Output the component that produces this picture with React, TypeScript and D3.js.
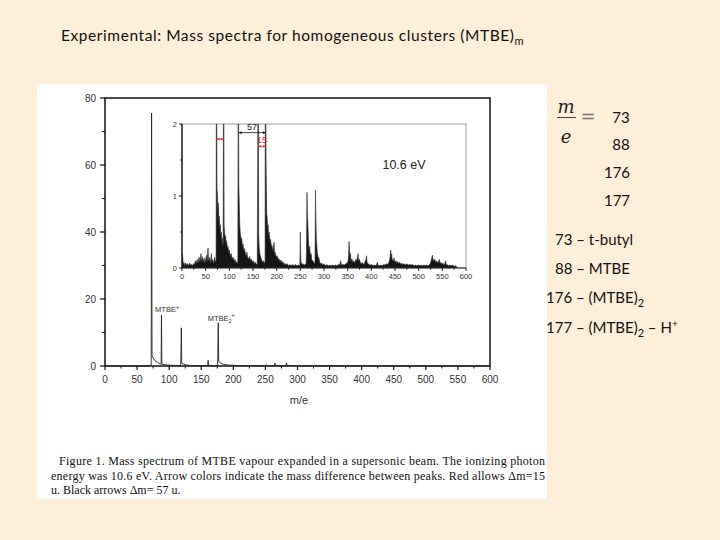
import React from 'react';
import * as d3 from 'd3';

// ---------- data ----------
const mainXTicks = [0, 50, 100, 150, 200, 250, 300, 350, 400, 450, 500, 550, 600];
const mainXMinor = [25, 75, 125, 175, 225, 275, 325, 375, 425, 475, 525, 575];
const mainYTicks = [0, 20, 40, 60, 80];
const mainYMinor = [10, 30, 50, 70];
const insetXTicks = [0, 50, 100, 150, 200, 250, 300, 350, 400, 450, 500, 550, 600];
const insetXMinor = [25, 75, 125, 175, 225, 275, 325, 375, 425, 475, 525, 575];
const insetYTicks = [0, 1, 2];
const insetYMinor = [0.5, 1.5];

// main spectrum (m/e, intensity)
const mainSpectrum: [number, number][] = [
  [0, 0], [60, 0], [70, 0.1], [72, 0.3], [72.6, 75.5], [73.3, 3], [75, 2.4], [78, 1.6], [82, 1.0],
  [86, 0.6], [87.5, 0.5], [88, 15.2], [88.6, 0.6], [92, 0.4], [100, 0.25], [110, 0.15], [118, 0.1],
  [119, 11.4], [119.6, 0.8], [122, 0.6], [126, 0.3], [135, 0.15], [150, 0.1], [160, 0.1],
  [160.7, 1.7], [161.3, 0.2], [170, 0.1], [175.5, 0.2], [176.5, 12.9], [177.2, 1.5], [180, 0.9],
  [185, 0.5], [190, 0.3], [200, 0.2], [210, 0.1], [250, 0.05], [251, 0.4], [252, 0.05],
  [264, 0.1], [264.5, 0.9], [266, 0.2], [282, 0.1], [282.5, 0.9], [284, 0.2], [300, 0.05],
  [353, 0.05], [353.5, 0.3], [355, 0.05], [600, 0],
];

// inset spectrum (m/e, intensity), zoomed 0..2
const insetSpectrum: [number, number][] = [
  [0, 0], [0.5, 0.2], [1.5, 0.15], [2.5, 0.05], [4, 0.08], [6, 0.03], [8, 0.07], [10, 0.04], [12, 0.06],
  [14, 0.03], [16, 0.07], [18, 0.04], [20, 0.05], [22, 0.03], [24, 0.06], [26, 0.04], [28, 0.1],
  [30, 0.06], [32, 0.12], [34, 0.07], [36, 0.15], [38, 0.08], [40, 0.2], [41, 0.1], [43, 0.16],
  [45, 0.08], [47, 0.14], [48, 0.07], [50, 0.12], [52, 0.18], [53, 0.08], [55, 0.28], [56, 0.1],
  [58, 0.15], [60, 0.07], [62, 0.2], [63, 0.09], [65, 0.12], [67, 0.06], [69, 0.15], [71, 0.08],
  [72, 0.1], [72.6, 2.5], [73.4, 2.5], [74, 1.1], [75, 1.02], [76, 0.8], [77, 0.9], [78, 0.65],
  [79, 0.72], [80, 0.55], [81, 0.6], [82, 0.45], [83, 0.5], [84, 0.38], [85, 0.42], [86, 0.32],
  [87, 0.35], [87.6, 2.5], [88.4, 2.5], [89, 0.6], [90, 0.5], [91, 0.42], [92, 0.45], [93, 0.35],
  [94, 0.38], [96, 0.28], [97, 0.3], [99, 0.22], [100, 0.25], [102, 0.17], [104, 0.2], [106, 0.13],
  [108, 0.15], [110, 0.1], [112, 0.12], [114, 0.07], [116, 0.09], [118, 0.06], [118.6, 2.5],
  [119.4, 2.5], [120, 1.15], [121, 0.9], [122, 0.6], [123, 0.5], [124, 0.45], [125, 0.38],
  [126, 0.42], [128, 0.3], [129, 0.33], [131, 0.24], [132, 0.27], [134, 0.2], [136, 0.16],
  [137, 0.22], [139, 0.14], [141, 0.13], [143, 0.16], [145, 0.1], [147, 0.12], [149, 0.08],
  [151, 0.1], [153, 0.06], [155, 0.08], [157, 0.05], [159, 0.06], [160.6, 2.5], [161.3, 2.5],
  [162, 0.45], [163, 0.3], [164, 0.22], [166, 0.15], [168, 0.12], [170, 0.08], [172, 0.1],
  [174, 0.06], [175.5, 0.1], [176, 2.5], [177, 2.5], [177.6, 1.5], [178, 1.3], [179, 0.75],
  [180, 0.7], [181, 0.55], [182, 0.6], [183, 0.45], [184, 0.5], [186, 0.38], [187, 0.4], [189, 0.3],
  [190, 0.32], [192, 0.24], [193, 0.28], [194.5, 0.36], [195.5, 0.2], [197, 0.22], [199, 0.15],
  [201, 0.17], [203, 0.12], [205, 0.13], [207, 0.09], [209, 0.11], [211, 0.07], [213, 0.09],
  [215, 0.05], [217, 0.07], [219, 0.04], [222, 0.06], [225, 0.03], [228, 0.05], [231, 0.03],
  [234, 0.05], [237, 0.03], [240, 0.05], [243, 0.03], [246, 0.04], [249, 0.03], [250, 0.5],
  [251, 0.1], [252, 0.07], [254, 0.05], [256, 0.06], [258, 0.04], [260, 0.05], [262, 0.06],
  [263, 0.2], [264, 1.05], [265, 0.75], [266, 0.6], [267, 0.4], [268, 0.3], [269, 0.25], [270, 0.3],
  [271, 0.18], [273, 0.2], [274, 0.12], [276, 0.1], [278, 0.08], [280, 0.06], [281, 0.1],
  [282, 1.08], [283, 0.65], [284, 0.4], [285, 0.3], [286, 0.2], [287, 0.18], [288, 0.12],
  [289, 0.15], [291, 0.08], [293, 0.06], [295, 0.07], [297, 0.04], [300, 0.06], [303, 0.03],
  [306, 0.05], [309, 0.03], [312, 0.04], [315, 0.03], [318, 0.04], [321, 0.03], [324, 0.04],
  [327, 0.03], [330, 0.05], [333, 0.04], [335, 0.1], [337, 0.04], [340, 0.05], [343, 0.04],
  [346, 0.06], [349, 0.07], [351, 0.1], [352, 0.2], [353, 0.37], [354, 0.25], [355, 0.15],
  [356, 0.2], [357, 0.1], [359, 0.13], [361, 0.08], [363, 0.1], [365, 0.07], [367, 0.12],
  [369, 0.1], [371, 0.16], [372, 0.2], [373, 0.1], [375, 0.12], [377, 0.07], [379, 0.06],
  [381, 0.08], [383, 0.05], [385, 0.06], [387, 0.09], [389, 0.12], [390, 0.17], [391, 0.08],
  [393, 0.06], [395, 0.05], [398, 0.04], [401, 0.05], [404, 0.03], [407, 0.04], [410, 0.03],
  [413, 0.08], [414, 0.04], [417, 0.03], [420, 0.04], [423, 0.03], [426, 0.05], [429, 0.04],
  [432, 0.06], [435, 0.05], [437, 0.08], [439, 0.12], [441, 0.25], [442, 0.15], [443, 0.2],
  [444, 0.12], [446, 0.1], [448, 0.14], [450, 0.08], [452, 0.1], [454, 0.07], [456, 0.09],
  [458, 0.06], [460, 0.08], [462, 0.05], [464, 0.07], [466, 0.05], [469, 0.06], [472, 0.04],
  [475, 0.06], [478, 0.04], [481, 0.05], [484, 0.04], [487, 0.05], [490, 0.03], [493, 0.04],
  [496, 0.03], [499, 0.04], [502, 0.03], [505, 0.04], [508, 0.03], [511, 0.04], [514, 0.03],
  [517, 0.04], [520, 0.03], [523, 0.05], [525, 0.07], [527, 0.12], [529, 0.18], [530, 0.13],
  [532, 0.1], [534, 0.12], [536, 0.08], [538, 0.1], [540, 0.07], [542, 0.09], [544, 0.12],
  [545, 0.06], [547, 0.08], [549, 0.05], [551, 0.07], [553, 0.04], [555, 0.06], [557, 0.1],
  [558, 0.04], [560, 0.05], [563, 0.03], [566, 0.04], [569, 0.03], [572, 0.04], [575, 0.02],
  [578, 0.03], [580, 0.02], [582, 0], [600, 0],
];

const titleText = 'Experimental: Mass spectra for homogeneous clusters (MTBE)';
const titleSub = 'm';
const massValues = ['73', '88', '176', '177'];
const captionLines = [
  'Figure 1. Mass spectrum of MTBE vapour expanded in a supersonic beam. The ionizing photon',
  'energy was 10.6 eV. Arrow colors indicate the mass difference between peaks. Red allows \u0394m=15',
  'u. Black arrows \u0394m= 57 u.',
];

const AX = 'Liberation Sans, Arial, sans-serif';
const SANS = 'Lato, Open Sans, sans-serif';

export default function App() {
  const xM = d3.scaleLinear().domain([0, 600]).range([105, 490]);
  const yM = d3.scaleLinear().domain([0, 80]).range([366, 98]);
  const xI = d3.scaleLinear().domain([0, 600]).range([182, 466]);
  const yI = d3.scaleLinear().domain([0, 2]).range([268, 124]);

  const mainLine = d3.line<[number, number]>().x(d => xM(d[0])).y(d => yM(d[1]))(mainSpectrum) || '';
  const insetArea = d3.area<[number, number]>().x(d => xI(d[0])).y0(yI(0)).y1(d => yI(d[1]))(insetSpectrum) || '';
  const insetLine = d3.line<[number, number]>().x(d => xI(d[0])).y(d => yI(d[1]))(insetSpectrum) || '';

  return (
    <svg width={720} height={540} style={{ position: 'absolute', left: 0, top: 0 }}>
      <defs>
        <clipPath id="insetClip">
          <rect x={xI(0)} y={yI(2)} width={xI(600) - xI(0)} height={yI(0) - yI(2)} />
        </clipPath>
        <marker id="arrB" viewBox="0 0 6 6" refX={6} refY={3} markerUnits="userSpaceOnUse" markerWidth={3} markerHeight={3} orient="auto-start-reverse">
          <path d="M0,0 L6,3 L0,6 z" fill="#111" />
        </marker>
        <marker id="arrR" viewBox="0 0 6 6" refX={6} refY={3} markerUnits="userSpaceOnUse" markerWidth={3} markerHeight={3} orient="auto-start-reverse">
          <path d="M0,0 L6,3 L0,6 z" fill="#d23a3a" />
        </marker>
      </defs>
      <rect x={0} y={0} width={720} height={540} fill="#fdefd9" />

      {/* title */}
      <text x={61} y={41} fontFamily={SANS} fontSize={15.5} fill="#111">
        <tspan textLength={453} lengthAdjust="spacing">{titleText}</tspan>
        <tspan fontSize={11} dy={4}>{titleSub}</tspan>
      </text>

      {/* white figure */}
      <rect x={37} y={84} width={510} height={415} fill="#ffffff" />

      {/* main frame */}
      <rect x={xM(0)} y={yM(80)} width={xM(600) - xM(0)} height={yM(0) - yM(80)} fill="none" stroke="#111" strokeWidth={1.5} />
      {mainYTicks.map(t => (
        <g key={'my' + t}>
          <line x1={xM(0) - 5} x2={xM(0)} y1={yM(t)} y2={yM(t)} stroke="#111" strokeWidth={1.2} />
          <text x={96} y={yM(t)} dy="0.35em" textAnchor="end" fontFamily={AX} fontSize={10} fill="#333">{t}</text>
        </g>
      ))}
      {mainYMinor.map(t => (
        <line key={'mym' + t} x1={xM(0) - 3} x2={xM(0)} y1={yM(t)} y2={yM(t)} stroke="#111" strokeWidth={1} />
      ))}
      {mainXTicks.map(t => (
        <g key={'mx' + t}>
          <line x1={xM(t)} x2={xM(t)} y1={yM(0)} y2={yM(0) + 4} stroke="#111" strokeWidth={1.2} />
          <text x={xM(t)} y={383} textAnchor="middle" fontFamily={AX} fontSize={10} fill="#333">{t}</text>
        </g>
      ))}
      {mainXMinor.map(t => (
        <line key={'mxm' + t} x1={xM(t)} x2={xM(t)} y1={yM(0)} y2={yM(0) + 2.5} stroke="#111" strokeWidth={1} />
      ))}
      <text x={299} y={404} textAnchor="middle" fontFamily={AX} fontSize={11} fill="#333">m/e</text>
      <path d={mainLine} fill="none" stroke="#222" strokeWidth={0.9} />

      {/* peak labels */}
      <text x={xM(78)} y={yM(16.1)} fontFamily={AX} fontSize={7.5} fill="#333">
        MTBE<tspan dy={-3} fontSize={5.5}>+</tspan>
      </text>
      <text x={xM(160)} y={yM(13.4)} fontFamily={AX} fontSize={7.5} fill="#333">
        MTBE<tspan dy={2} fontSize={5.5}>2</tspan><tspan dy={-6} fontSize={5.5}>+</tspan>
      </text>

      {/* inset */}
      <rect x={xI(0)} y={yI(2)} width={xI(600) - xI(0)} height={yI(0) - yI(2)} fill="#fff" stroke="#999" strokeWidth={1} />
      <g clipPath="url(#insetClip)">
        <path d={insetArea} fill="#151515" stroke="none" />
        <path d={insetLine} fill="none" stroke="#333" strokeWidth={0.6} />
      </g>
      <line x1={xI(0)} x2={xI(0)} y1={yI(2)} y2={yI(0)} stroke="#111" strokeWidth={1.3} />
      <line x1={xI(0)} x2={xI(600)} y1={yI(0)} y2={yI(0)} stroke="#333" strokeWidth={1} />
      {insetYTicks.map(t => (
        <g key={'iy' + t}>
          <line x1={xI(0) - 3} x2={xI(0)} y1={yI(t)} y2={yI(t)} stroke="#111" strokeWidth={1} />
          <text x={177} y={yI(t)} dy="0.35em" textAnchor="end" fontFamily={AX} fontSize={7.5} fill="#333">{t}</text>
        </g>
      ))}
      {insetYMinor.map(t => (
        <line key={'iym' + t} x1={xI(0) - 2} x2={xI(0)} y1={yI(t)} y2={yI(t)} stroke="#111" strokeWidth={0.8} />
      ))}
      {insetXTicks.map(t => (
        <g key={'ix' + t}>
          <line x1={xI(t)} x2={xI(t)} y1={yI(0)} y2={yI(0) + 3} stroke="#111" strokeWidth={0.9} />
          <text x={xI(t)} y={279} textAnchor="middle" fontFamily={AX} fontSize={7.5} fill="#333">{t}</text>
        </g>
      ))}
      {insetXMinor.map(t => (
        <line key={'ixm' + t} x1={xI(t)} x2={xI(t)} y1={yI(0)} y2={yI(0) + 1.8} stroke="#111" strokeWidth={0.8} />
      ))}
      <text x={404} y={169} textAnchor="middle" fontFamily={AX} fontSize={12.5} fill="#222">10.6 eV</text>

      {/* arrows */}
      <line x1={xI(119.5)} x2={xI(176.5)} y1={yI(1.88)} y2={yI(1.88)} stroke="#111" strokeWidth={0.8} markerStart="url(#arrB)" markerEnd="url(#arrB)" />
      <text x={xI(148)} y={yI(1.91)} textAnchor="middle" fontFamily={AX} fontSize={9} fill="#222">57</text>
      <line x1={xI(73)} x2={xI(88)} y1={yI(1.79)} y2={yI(1.79)} stroke="#d23a3a" strokeWidth={0.9} markerStart="url(#arrR)" markerEnd="url(#arrR)" />
      <line x1={xI(161)} x2={xI(177)} y1={yI(1.69)} y2={yI(1.69)} stroke="#d23a3a" strokeWidth={0.9} markerStart="url(#arrR)" markerEnd="url(#arrR)" />
      <text x={xI(169)} y={yI(1.73)} textAnchor="middle" fontFamily={AX} fontSize={9} fill="#d23a3a">15</text>

      {/* caption */}
      <text x={59} y={465} fontFamily="Liberation Serif, Times New Roman, serif" fontSize={12} fill="#111" textLength={486} lengthAdjust="spacing">{captionLines[0]}</text>
      <text x={51} y={480} fontFamily="Liberation Serif, Times New Roman, serif" fontSize={12} fill="#111" textLength={494} lengthAdjust="spacing">{captionLines[1]}</text>
      <text x={51} y={494} fontFamily="Liberation Serif, Times New Roman, serif" fontSize={12} fill="#111">{captionLines[2]}</text>

      {/* right side */}
      <text x={566} y={113} textAnchor="middle" fontFamily="DejaVu Serif, serif" fontStyle="italic" fontSize={18} fill="#222">m</text>
      <line x1={557} x2={576} y1={117.5} y2={117.5} stroke="#444" strokeWidth={1} />
      <text x={566} y={143} textAnchor="middle" fontFamily="DejaVu Serif, serif" fontStyle="italic" fontSize={18} fill="#222">e</text>
      <text x={588} y={123} textAnchor="middle" fontFamily="DejaVu Serif, serif" fontSize={18} fill="#777">=</text>
      <text x={621} y={123} textAnchor="middle" fontFamily={SANS} fontSize={15} fill="#111">{massValues[0]}</text>
      <text x={621} y={150} textAnchor="middle" fontFamily={SANS} fontSize={15} fill="#111">{massValues[1]}</text>
      <text x={617} y={178} textAnchor="middle" fontFamily={SANS} fontSize={15} fill="#111">{massValues[2]}</text>
      <text x={617} y={206} textAnchor="middle" fontFamily={SANS} fontSize={15} fill="#111">{massValues[3]}</text>

      <text x={555} y={245} fontFamily={SANS} fontSize={15} fill="#111">73 – t-butyl</text>
      <text x={555} y={274} fontFamily={SANS} fontSize={15} fill="#111">88 – MTBE</text>
      <text x={546} y={303} fontFamily={SANS} fontSize={15} fill="#111">
        176 – (MTBE)<tspan fontSize={11} dy={4}>2</tspan>
      </text>
      <text x={546} y={333} fontFamily={SANS} fontSize={15} fill="#111">
        177 – (MTBE)<tspan fontSize={11} dy={4}>2</tspan><tspan dy={-4}> – H</tspan><tspan fontSize={10} dy={-6}>+</tspan>
      </text>
    </svg>
  );
}
